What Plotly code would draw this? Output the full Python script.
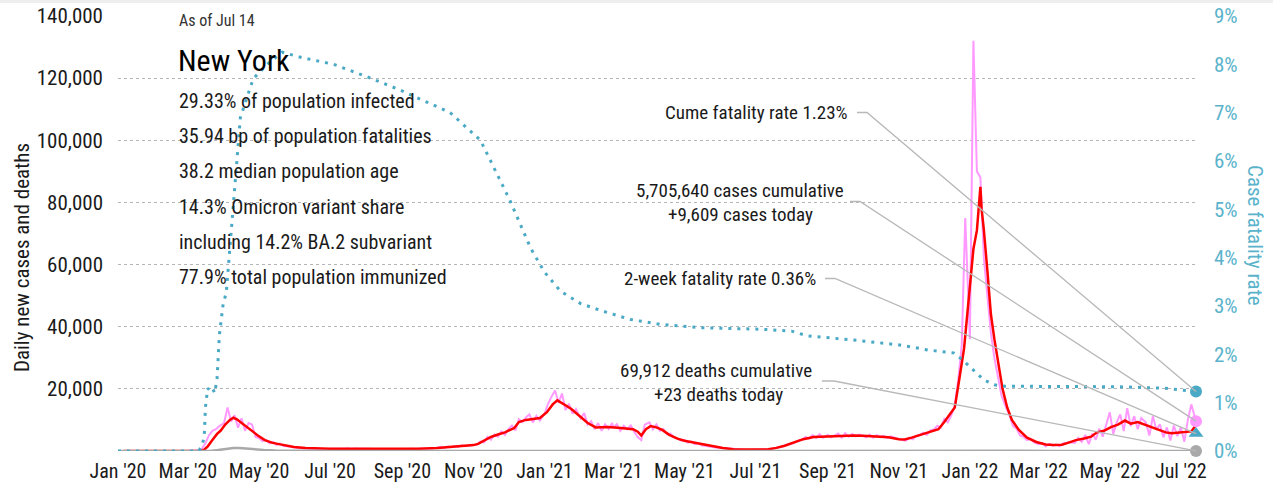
import plotly.graph_objects as go
import pandas as pd

FONT = "Liberation Sans Narrow, Arial Narrow, Roboto Condensed, DejaVu Sans Condensed, sans-serif"
TEAL = "#4aa9c5"
TEAL_TXT = "#5ab3cb"
PINK = "#ff99ff"
RED = "#ff0000"
GRAY = "#a9a9a9"
INK = "#1a1a1a"

# ---------------- data ----------------
avg_dates = ["2020-01-06", "2020-03-08", "2020-03-12", "2020-03-15", "2020-03-18", "2020-03-22", "2020-03-26",
             "2020-03-29", "2020-04-02", "2020-04-06", "2020-04-09", "2020-04-12", "2020-04-16", "2020-04-20",
             "2020-04-26", "2020-04-30", "2020-05-06", "2020-05-12", "2020-05-17", "2020-05-24", "2020-05-31",
             "2020-06-10", "2020-06-20", "2020-07-01", "2020-07-15", "2020-08-01", "2020-08-15", "2020-09-01",
             "2020-09-15", "2020-10-01", "2020-10-10", "2020-10-20", "2020-11-01", "2020-11-05", "2020-11-10",
             "2020-11-16", "2020-11-22", "2020-11-28", "2020-12-06", "2020-12-10", "2020-12-16", "2020-12-22",
             "2020-12-28", "2021-01-03", "2021-01-08", "2021-01-12", "2021-01-16", "2021-01-20", "2021-01-24",
             "2021-01-30", "2021-02-07", "2021-02-14", "2021-02-24", "2021-03-05", "2021-03-13", "2021-03-18",
             "2021-03-22", "2021-03-25", "2021-03-29", "2021-04-02", "2021-04-07", "2021-04-12", "2021-04-18",
             "2021-04-25", "2021-05-01", "2021-05-08", "2021-05-15", "2021-05-25", "2021-06-03", "2021-06-12",
             "2021-06-24", "2021-07-05", "2021-07-12", "2021-07-19", "2021-07-26", "2021-08-02", "2021-08-11",
             "2021-08-20", "2021-08-30", "2021-09-10", "2021-09-24", "2021-10-05", "2021-10-15", "2021-10-23",
             "2021-11-01", "2021-11-06", "2021-11-12", "2021-11-20", "2021-11-28", "2021-12-05", "2021-12-10",
             "2021-12-14", "2021-12-19", "2021-12-22", "2021-12-25", "2021-12-27", "2021-12-30", "2022-01-02",
             "2022-01-04", "2022-01-07", "2022-01-09", "2022-01-10", "2022-01-11", "2022-01-13", "2022-01-16",
             "2022-01-19", "2022-01-22", "2022-01-25", "2022-01-29", "2022-02-02", "2022-02-06", "2022-02-12",
             "2022-02-19", "2022-02-27", "2022-03-07", "2022-03-14", "2022-03-21", "2022-03-26", "2022-04-02",
             "2022-04-09", "2022-04-15", "2022-04-20", "2022-04-26", "2022-05-02", "2022-05-08", "2022-05-14",
             "2022-05-19", "2022-05-25", "2022-06-01", "2022-06-07", "2022-06-12", "2022-06-18", "2022-06-23",
             "2022-06-29", "2022-07-05", "2022-07-10", "2022-07-14"]
avg_cases = [0, 0, 60, 400, 1500, 3500, 5500,
             6500, 8500, 10000, 10700, 10200, 9000, 7800,
             6100, 5000, 3500, 2700, 2300, 1700, 1300,
             1000, 800, 700, 750, 700, 650, 650,
             700, 1000, 1300, 1500, 1900, 2300, 3200,
             4500, 5300, 6000, 7400, 9300, 10000, 10300,
             10600, 12500, 15000, 16300, 15500, 14500, 13500,
             11500, 9000, 7600, 7700, 7500, 7300, 7000,
             6200, 5000, 7000, 8000, 7600, 6800, 5200,
             4000, 3300, 2800, 2300, 1500, 1000, 600,
             400, 450, 600, 1000, 1700, 2600, 3800,
             4500, 4700, 4900, 5000, 4800, 4600, 4400,
             3800, 3700, 4300, 5300, 6100, 7000, 9300,
             11500, 14000, 21000, 28000, 33000, 45000, 56000,
             65000, 71000, 80000, 85000, 78000, 71000, 58000,
             44000, 36000, 29000, 20000, 14000, 10000, 6800,
             4300, 2900, 2100, 1900, 2000, 2600, 3500,
             4000, 4600, 6000, 6500, 7700, 8500, 9800,
             8800, 9300, 8300, 7600, 6900, 6000, 5700,
             5900, 6100, 6300, 8400]

# daily new cases, sampled on days 1,4,...,28 of each month (Mar 2020 - Jun 2022), then Jul 2022
daily_days = [1, 4, 7, 10, 13, 16, 19, 22, 25, 28]
daily_last_month_days = ["2022-07-01", "2022-07-04", "2022-07-07", "2022-07-10", "2022-07-14"]
daily_cases = [
    0, 0, 40, 150, 700, 2500, 5000, 6500, 7000, 8000,                  # 2020-03
    9000, 14000, 9500, 11500, 7500, 10500, 6500, 9000, 8500, 4500,     # 2020-04
    4200, 3200, 3600, 2500, 2900, 2000, 2400, 1600, 1500, 1300,        # 2020-05
    1200, 1000, 900, 800, 850, 700, 750, 650, 700, 600,                # 2020-06
    700, 650, 800, 700, 750, 850, 650, 800, 700, 750,                  # 2020-07
    650, 700, 600, 700, 650, 600, 700, 650, 600, 650,                  # 2020-08
    650, 700, 600, 750, 650, 800, 700, 850, 800, 900,                  # 2020-09
    1100, 1300, 1000, 1400, 1200, 1600, 1300, 1800, 1500, 1700,        # 2020-10
    1900, 2100, 3000, 2800, 4500, 3600, 5300, 4600, 6300, 5200,        # 2020-11
    7000, 8200, 6600, 10200, 9300, 10800, 11800, 9200, 11300, 9800,   # 2020-12
    12000, 15200, 17500, 19500, 15500, 18500, 13200, 15200, 12000, 13500,  # 2021-01
    10500, 12200, 8500, 9600, 7000, 9000, 6500, 8600, 7100, 9000,      # 2021-02
    7400, 8600, 6500, 8100, 7000, 8200, 6100, 4500, 3500, 8500,        # 2021-03
    9200, 7000, 8600, 6500, 7100, 5400, 5600, 4400, 4100, 3400,        # 2021-04
    3600, 2700, 3100, 2200, 2500, 1800, 1700, 1400, 1300, 1100,        # 2021-05
    1000, 800, 700, 600, 550, 450, 420, 380, 350, 400,                 # 2021-06
    450, 350, 500, 550, 650, 800, 950, 1300, 1500, 2000,               # 2021-07
    2300, 2900, 3300, 3600, 4500, 4000, 5100, 4200, 5400, 4300,        # 2021-08
    5200, 4400, 4900, 5600, 4300, 5700, 4600, 5500, 4700, 5300,        # 2021-09
    5000, 4400, 5300, 4300, 5100, 4600, 4900, 4200, 4700, 4300,        # 2021-10
    4000, 3500, 3300, 4300, 3800, 4900, 5100, 5900, 5200, 6600,        # 2021-11
    6900, 8100, 7500, 10300, 9200, 11500, 14500, 23000, 34000, 75000,  # 2021-12
    36000, 132000, 90000, 88000, 62000, 50000, 38000, 30000, 24000, 18000,  # 2022-01
    14000, 11500, 8000, 7200, 5000, 4600, 3500, 3900, 2800, 2500,      # 2022-02
    2200, 2600, 1500, 2300, 1700, 2100, 1600, 2400, 2500, 2800,        # 2022-03
    2600, 4200, 3000, 5200, 2200, 5600, 3600, 7200, 4600, 8600,        # 2022-04
    12500, 5500, 9200, 11800, 6400, 13800, 8000, 11200, 7000, 10600,   # 2022-05
    9200, 5000, 11200, 6800, 8600, 4400, 7600, 3400, 8200, 4800,       # 2022-06
    7600, 3000, 10000, 15000, 9609,                                     # 2022-07
]

death_dates = ["2020-01-01", "2020-03-10", "2020-03-20", "2020-03-27", "2020-04-03", "2020-04-09", "2020-04-14",
               "2020-04-20", "2020-04-27", "2020-05-05", "2020-05-15", "2020-05-30", "2020-06-15", "2020-07-01",
               "2020-09-01", "2020-10-15", "2020-11-15", "2020-12-15", "2021-01-15", "2021-02-15", "2021-03-15",
               "2021-04-15", "2021-05-15", "2021-06-15", "2021-08-01", "2021-09-15", "2021-11-01", "2021-12-15",
               "2022-01-10", "2022-01-25", "2022-02-15", "2022-03-15", "2022-05-01", "2022-06-15", "2022-07-14"]
deaths = [0, 0, 30, 300, 700, 1000, 950,
          750, 550, 350, 200, 100, 50, 20,
          10, 20, 40, 110, 170, 140, 80,
          50, 25, 10, 10, 30, 30, 60,
          180, 160, 60, 20, 20, 25, 23]

cfr_dates = ["2020-01-01", "2020-03-10", "2020-03-13", "2020-03-15", "2020-03-16", "2020-03-18", "2020-03-20",
             "2020-03-22", "2020-03-24", "2020-03-26", "2020-03-28", "2020-03-31", "2020-04-03", "2020-04-09",
             "2020-04-15", "2020-04-26", "2020-05-08", "2020-05-21", "2020-06-05", "2020-07-04", "2020-08-02",
             "2020-08-30", "2020-10-12", "2020-11-07", "2020-11-24", "2020-12-02", "2020-12-20", "2021-01-01",
             "2021-01-15", "2021-02-01", "2021-02-19", "2021-03-16", "2021-04-10", "2021-05-15", "2021-07-06",
             "2021-08-01", "2021-08-15", "2021-09-22", "2021-11-03", "2021-11-26", "2021-12-18", "2021-12-26",
             "2022-01-01", "2022-01-07", "2022-01-13", "2022-01-22", "2022-01-31", "2022-05-07", "2022-06-17",
             "2022-07-14"]
cfr = [0, 0, 0.1, 0.3, 0.9, 1.3, 1.25,
       1.3, 1.2, 1.5, 2.4, 3.0, 3.3, 5.2,
       6.9, 7.7, 8.0, 8.25, 8.15, 8.0, 7.74,
       7.47, 7.0, 6.43, 5.6, 5.2, 4.2, 3.7,
       3.3, 3.05, 2.9, 2.72, 2.62, 2.55, 2.52,
       2.48, 2.38, 2.3, 2.19, 2.09, 2.03, 1.88,
       1.74, 1.6, 1.47, 1.37, 1.34, 1.33, 1.3,
       1.23]

last_date = "2022-07-14"
cume_fatality = 1.23
two_week_fatality = 0.36
cases_today = 9609
deaths_today = 23

y_ticks = [0, 20000, 40000, 60000, 80000, 100000, 120000, 140000]
y_ticktext = [""] + [f"{v:,}" for v in y_ticks[1:]]
y2_ticks = list(range(0, 10))
y2_ticktext = [f"{v}%" for v in y2_ticks]

info_lines = ["29.33% of population infected",
              "35.94 bp of population fatalities",
              "38.2 median population age",
              "14.3% Omicron variant share",
              "including 14.2% BA.2 subvariant",
              "77.9% total population immunized"]

# ---------------- figure ----------------
months = pd.period_range("2020-03", "2022-06", freq="M")
daily_dates = [f"{p}-{d:02d}" for p in months for d in daily_days] + daily_last_month_days
assert len(daily_dates) == len(daily_cases)

Y_MAX = 140000
Y2_MAX = 9

fig = go.Figure()
fig.add_trace(go.Scatter(x=daily_dates, y=daily_cases, mode="lines",
                         line=dict(color=PINK, width=2), hoverinfo="skip"))
fig.add_trace(go.Scatter(x=avg_dates, y=avg_cases, mode="lines",
                         line=dict(color=RED, width=2.5), hoverinfo="skip"))
fig.add_trace(go.Scatter(x=death_dates, y=deaths, mode="lines",
                         line=dict(color=GRAY, width=2.5), hoverinfo="skip"))
fig.add_trace(go.Scatter(x=cfr_dates, y=cfr, mode="lines", yaxis="y2",
                         line=dict(color=TEAL, width=3, dash="3px,6px"), hoverinfo="skip"))
# end markers
fig.add_trace(go.Scatter(x=[last_date], y=[cume_fatality], yaxis="y2", mode="markers", cliponaxis=False,
                         marker=dict(color=TEAL, size=12, symbol="circle")))
fig.add_trace(go.Scatter(x=[last_date], y=[two_week_fatality], yaxis="y2", mode="markers", cliponaxis=False,
                         marker=dict(color=TEAL, size=13, symbol="triangle-up")))
fig.add_trace(go.Scatter(x=[last_date], y=[cases_today], mode="markers", cliponaxis=False,
                         marker=dict(color=PINK, size=12, symbol="circle")))
fig.add_trace(go.Scatter(x=[last_date], y=[deaths_today], mode="markers", cliponaxis=False,
                         marker=dict(color=GRAY, size=12, symbol="circle")))

# layout geometry (pixels)
L, R, T, B = 118, 1196, 16, 451
W, H = 1273, 491


def px(x):
    return (x - L) / (R - L)


def py(y):
    return (B - y) / (B - T)


ann = []


def text(x, y, s, size=19, anchor="left", color=INK, **kw):
    ann.append(dict(x=px(x), y=py(y), xref="paper", yref="paper", text=s, showarrow=False,
                    xanchor=anchor, yanchor="middle", font=dict(family=FONT, size=size, color=color), **kw))


text(177, 20, "As of Jul 14", size=16, color="#333333")
text(176, 60, "New York", size=30, color="#000000")
for i, line in enumerate(info_lines):
    text(177, 101 + i * 35.2, line, size=20)

text(850, 112, "Cume fatality rate 1.23%", anchor="right")
text(740, 191, "5,705,640 cases cumulative", anchor="center")
text(740, 215, "+9,609 cases today", anchor="center")
text(818, 278, "2-week fatality rate 0.36%", anchor="right")
text(716, 370, "69,912 deaths cumulative", anchor="center")
text(718, 394, "+23 deaths today", anchor="center")

text(22, 258, "Daily new cases and deaths", size=21, anchor="center", textangle=-90)
text(1255, 235, "Case fatality rate", size=21, anchor="center", color=TEAL_TXT, textangle=90)

shapes = []
# top strip
shapes.append(dict(type="rect", xref="paper", yref="paper", x0=px(0), x1=px(W), y0=py(3), y1=py(0),
                   fillcolor="#eeeeee", line=dict(width=0), layer="below"))


def leader(x_left, x_right, y_pix, end_frac):
    return dict(type="path", xref="paper", yref="paper",
                path=f"M {px(x_left)},{py(y_pix)} L {px(x_right)},{py(y_pix)} L 1,{end_frac}",
                line=dict(color="#b8b8b8", width=1.3), layer="above")


shapes.append(leader(857, 867, 112.5, cume_fatality / Y2_MAX))
shapes.append(leader(850, 860, 201.5, cases_today / Y_MAX))
shapes.append(leader(825, 835, 278.5, two_week_fatality / Y2_MAX))
shapes.append(leader(822, 834, 381, deaths_today / Y_MAX))

fig.update_layout(
    width=W, height=H,
    margin=dict(l=L, r=W - R, t=T, b=H - B, autoexpand=False),
    paper_bgcolor="white", plot_bgcolor="white",
    showlegend=False,
    hovermode=False,
    font=dict(family=FONT, color=INK, size=20),
    xaxis=dict(range=["2020-01-01", last_date], type="date", tickformat="%b '%y", dtick="M2",
               tick0="2020-01-01", showgrid=False, zeroline=False, showline=False,
               ticks="", ticklabelstandoff=6, tickfont=dict(family=FONT, size=20, color=INK)),
    yaxis=dict(range=[0, Y_MAX], tickvals=y_ticks, ticktext=y_ticktext, showgrid=True,
               gridcolor="#b5b5b5", griddash="dot", gridwidth=1, zeroline=False, showline=False,
               ticks="", ticklabelstandoff=14, tickfont=dict(family=FONT, size=21, color=INK)),
    yaxis2=dict(range=[0, Y2_MAX], overlaying="y", side="right", tickvals=y2_ticks, ticktext=y2_ticktext,
                showgrid=False, zeroline=False, showline=False, ticks="", ticklabelstandoff=17,
                tickfont=dict(family=FONT, size=21, color=TEAL_TXT)),
    annotations=ann,
    shapes=shapes,
)

fig.write_html("out.html", config={"displayModeBar": False},
               post_script="document.body.style.margin='0';")
